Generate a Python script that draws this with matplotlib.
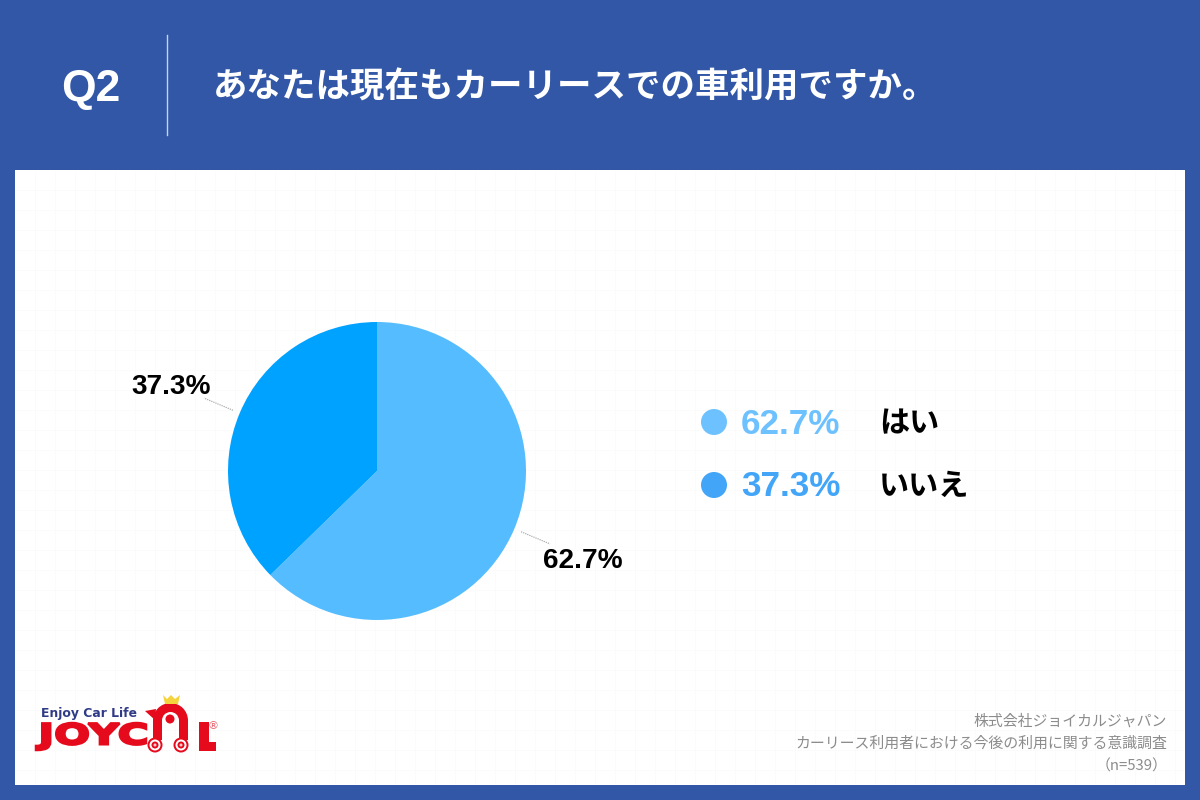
import numpy as np
import matplotlib
matplotlib.use("Agg")
import matplotlib.pyplot as plt
from matplotlib.patches import Rectangle, Circle, Wedge, Polygon, PathPatch
from matplotlib.textpath import TextPath
from matplotlib.font_manager import FontProperties
from matplotlib.transforms import Affine2D

FONT = ['Liberation Sans', 'Noto Sans CJK JP', 'DejaVu Sans']
plt.rcParams['font.family'] = FONT
CJK = ['Noto Sans CJK JP', 'DejaVu Sans']

question = "Q2"
title = "あなたは現在もカーリースでの車利用ですか。"
categories = ["はい", "いいえ"]
values = [62.7, 37.3]
pie_colors = ["#55BDFF", "#00A2FF"]
legend_colors = ["#6EC1FF", "#42A5F8"]
footer = ["株式会社ジョイカルジャパン",
          "カーリース利用者における今後の利用に関する意識調査",
          "（n=539）"]

BLUE = "#3157A6"
fig = plt.figure(figsize=(12, 8), dpi=100, facecolor=BLUE)

# Pixel-space overlay for the page furniture
bg = fig.add_axes([0, 0, 1, 1])
bg.set_xlim(0, 1200)
bg.set_ylim(800, 0)
bg.axis("off")
bg.add_patch(Rectangle((15, 170), 1170, 615, fc="white", ec="none", zorder=0))
for x in np.arange(35, 1185, 20):
    bg.plot([x, x], [171, 784], color="#FBFBFB", lw=0.6, zorder=1, solid_capstyle="butt")
for y in np.arange(190, 785, 20):
    bg.plot([16, 1184], [y, y], color="#FBFBFB", lw=0.6, zorder=1, solid_capstyle="butt")

# Header
bg.plot([167, 167], [35, 135], color="#C9D3E8", lw=1)
bg.text(91, 89, question, color="white", fontsize=32, fontweight="bold",
        ha="center", va="center")
bg.text(213, 87, title, color="white", fontsize=24.8, fontweight="bold",
        ha="left", va="center", family=CJK)

# Legend
for y, val, cat, col in zip([422, 485], values, categories, legend_colors):
    bg.add_patch(Circle((714, y), 13, fc=col, ec="none", zorder=3))
    bg.text(741, y + 2, f"{val:.1f}%", color=col, fontsize=25.3, fontweight="bold",
            ha="left", va="center")
    bg.text(879, y + 1, cat, color="black", fontsize=21.7, fontweight="bold",
            ha="left", va="center", family=CJK)

# Footer
for y, line in zip([721, 744, 766], footer):
    bg.text(1167, y, line, color="#8C8C8C", fontsize=10.75, ha="right", va="center",
            family=CJK)

# Logo
RED = "#E50B1C"


def fit_text(s, x0, y0, x1, y1, color):
    """Stretch a glyph run into a pixel box on the overlay axes."""
    tp = TextPath((0, 0), s, size=10, prop=FontProperties(family="DejaVu Sans", weight="bold"))
    b = tp.get_extents()
    tr = (Affine2D().translate(-b.x0, -b.y0)
          .scale((x1 - x0) / b.width, -(y1 - y0) / b.height)
          .translate(x0, y1))
    bg.add_patch(PathPatch(tp.transformed(tr), fc=color, ec=color, lw=1.8, zorder=3))


bg.text(41, 713, "Enjoy Car Life", color="#2F3B86", fontsize=8.9, fontweight="bold",
        family="DejaVu Sans", ha="left", va="center")
fit_text("JOYC", 36, 723, 146, 750, RED)
bg.add_patch(Rectangle((199, 722), 10, 29, fc=RED, ec="none", zorder=3))
bg.add_patch(Rectangle((199, 742), 17, 9, fc=RED, ec="none", zorder=3))
bg.add_patch(Wedge((170.5, 720.5), 17.5, 180, 360, width=9, fc=RED, ec="none", zorder=3))
bg.add_patch(Rectangle((153, 720), 9, 20, fc=RED, ec="none", zorder=3))
bg.add_patch(Rectangle((179, 720), 9, 20, fc=RED, ec="none", zorder=3))
bg.add_patch(Polygon([[145, 711], [156, 709], [155, 720]], fc=RED, ec="none", zorder=3))
bg.add_patch(Circle((170, 719), 4.5, fc=RED, ec="none", zorder=4))
for cx in (155, 181):
    bg.add_patch(Circle((cx, 745), 7.5, fc=RED, ec="none", zorder=5))
    bg.add_patch(Circle((cx, 745), 5.5, fc="white", ec="none", zorder=6))
    bg.add_patch(Circle((cx, 745), 3.5, fc=RED, ec="none", zorder=7))
    bg.add_patch(Circle((cx, 745), 1.5, fc="#F7C9CC", ec="none", zorder=8))
bg.add_patch(Polygon([[165, 704], [163, 695], [167, 699], [171, 695], [175, 699],
                      [180, 695], [178, 704]], fc="#F5D33C", ec="none", zorder=3))
bg.text(213, 726, "®", color="#E8626C", fontsize=8, ha="center", va="center",
        family="DejaVu Sans")

# Pie
ax = fig.add_axes([228 / 1200, 180 / 800, 298 / 1200, 298 / 800])
wedges, _, autotexts = ax.pie(values, colors=pie_colors, startangle=90, counterclock=False,
                              radius=1, autopct="%.1f%%", pctdistance=1.5,
                              wedgeprops=dict(linewidth=0))
for t in autotexts:
    t.set_color("black")
    t.set_fontsize(20.2)
    t.set_fontweight("bold")
    t.set_clip_on(False)
    t.set_y(t.get_position()[1] - 0.02)
for w in wedges:
    mid = np.deg2rad((w.theta1 + w.theta2) / 2)
    ax.plot([1.05 * np.cos(mid), 1.26 * np.cos(mid)],
            [1.05 * np.sin(mid), 1.26 * np.sin(mid)],
            color="#9A9A9A", lw=0.8, ls=(0, (1, 1)), clip_on=False)
ax.set_xlim(-1, 1)
ax.set_ylim(-1, 1)
ax.patch.set_alpha(0)

fig.savefig("out.png", dpi=100, facecolor=BLUE)
